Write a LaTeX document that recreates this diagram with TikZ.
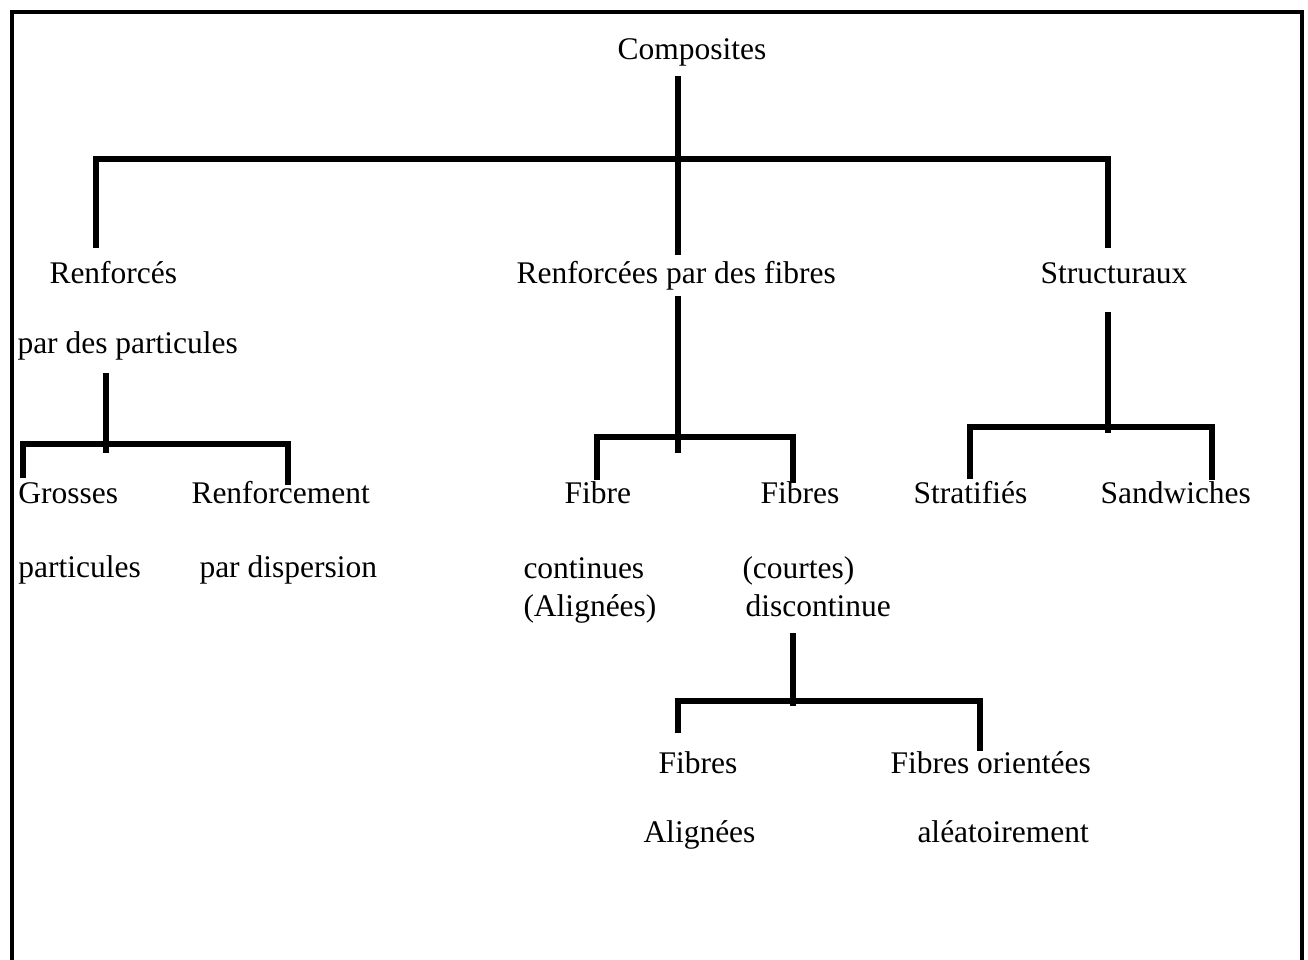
\documentclass[tikz,border=0pt]{standalone}
\usepackage{fontspec}
\setmainfont{Liberation Serif}

\begin{document}
\begin{tikzpicture}[
        x=0.4pt, y=-0.4pt,
        lbl/.style={anchor=base west, inner sep=0pt,
          font=\fontsize{12.6}{15}\selectfont},
        trait/.style={line width=2.2pt},
        cadre/.style={line width=1.3pt}]
        % 初始化
        \useasboundingbox (0,0) rectangle (1308,960);
        % 定义坐标点
        \foreach \x/\y/\n in {12/960/K1, 12/12/K2, 1302/12/K3, 1302/960/K4,
            678/76/C1, 678/255/C2, 96/248/B1, 96/159/B2, 1108/159/B3, 1108/248/B4,
            106/373/P1, 106/453/P2, 23/478/P3, 23/444/P4, 288/444/P5, 288/485/P6,
            678/296/F1, 678/453/F2, 597/480/F3, 597/437/F4, 793/437/F5, 793/483/F6,
            1108/312/S1, 1108/433/S2, 970/479/S3, 970/427/S4, 1212/427/S5, 1212/480/S6,
            793/633/D1, 793/706/D2, 678/733/D3, 678/701/D4, 980/701/D5, 980/751/D6}
          \coordinate (\n) at (\x,\y);
        % 绘制边框
        \draw[cadre] (K1) -- (K2) -- (K3) -- (K4);
        % 标记文字
        \node[lbl] (comp) at (617,60) {Composites};
        \node[lbl] (renfP) at (49,283) {Renforcés};
        \node[lbl] (renfF) at (516,283) {Renforcées par des fibres};
        \node[lbl] (struct) at (1040,283) {Structuraux};
        \node[lbl] (parP) at (17,353) {par des particules};
        \node[lbl] (gros) at (18,503) {Grosses};
        \node[lbl] (renfD) at (191,503) {Renforcement};
        \node[lbl] (partic) at (18,577) {particules};
        \node[lbl] (disp) at (199,577) {par dispersion};
        \node[lbl] (fibC) at (564,503) {Fibre};
        \node[lbl] (fibD) at (760,503) {Fibres};
        \node[lbl] (cont) at (523,578) {continues};
        \node[lbl] (aligA) at (523,616) {(Alignées)};
        \node[lbl] (court) at (742,578) {(courtes)};
        \node[lbl] (discont) at (745,616) {discontinue};
        \node[lbl] (strat) at (913,503) {Stratifiés};
        \node[lbl] (sand) at (1100,503) {Sandwiches};
        \node[lbl] (fibA) at (658,773) {Fibres};
        \node[lbl] (fibO) at (890,773) {Fibres orientées};
        \node[lbl] (aligB) at (643,842) {Alignées};
        \node[lbl] (alea) at (917,842) {aléatoirement};
        % 绘制各线段
        \draw[trait] (C1) -- (C2);
        \draw[trait] (B1) -- (B2) -- (B3) -- (B4);
        \draw[trait] (P1) -- (P2);
        \draw[trait] (P3) -- (P4) -- (P5) -- (P6);
        \draw[trait] (F1) -- (F2);
        \draw[trait] (F3) -- (F4) -- (F5) -- (F6);
        \draw[trait] (S1) -- (S2);
        \draw[trait] (S3) -- (S4) -- (S5) -- (S6);
        \draw[trait] (D1) -- (D2);
        \draw[trait] (D3) -- (D4) -- (D5) -- (D6);
      \end{tikzpicture}
\end{document}
